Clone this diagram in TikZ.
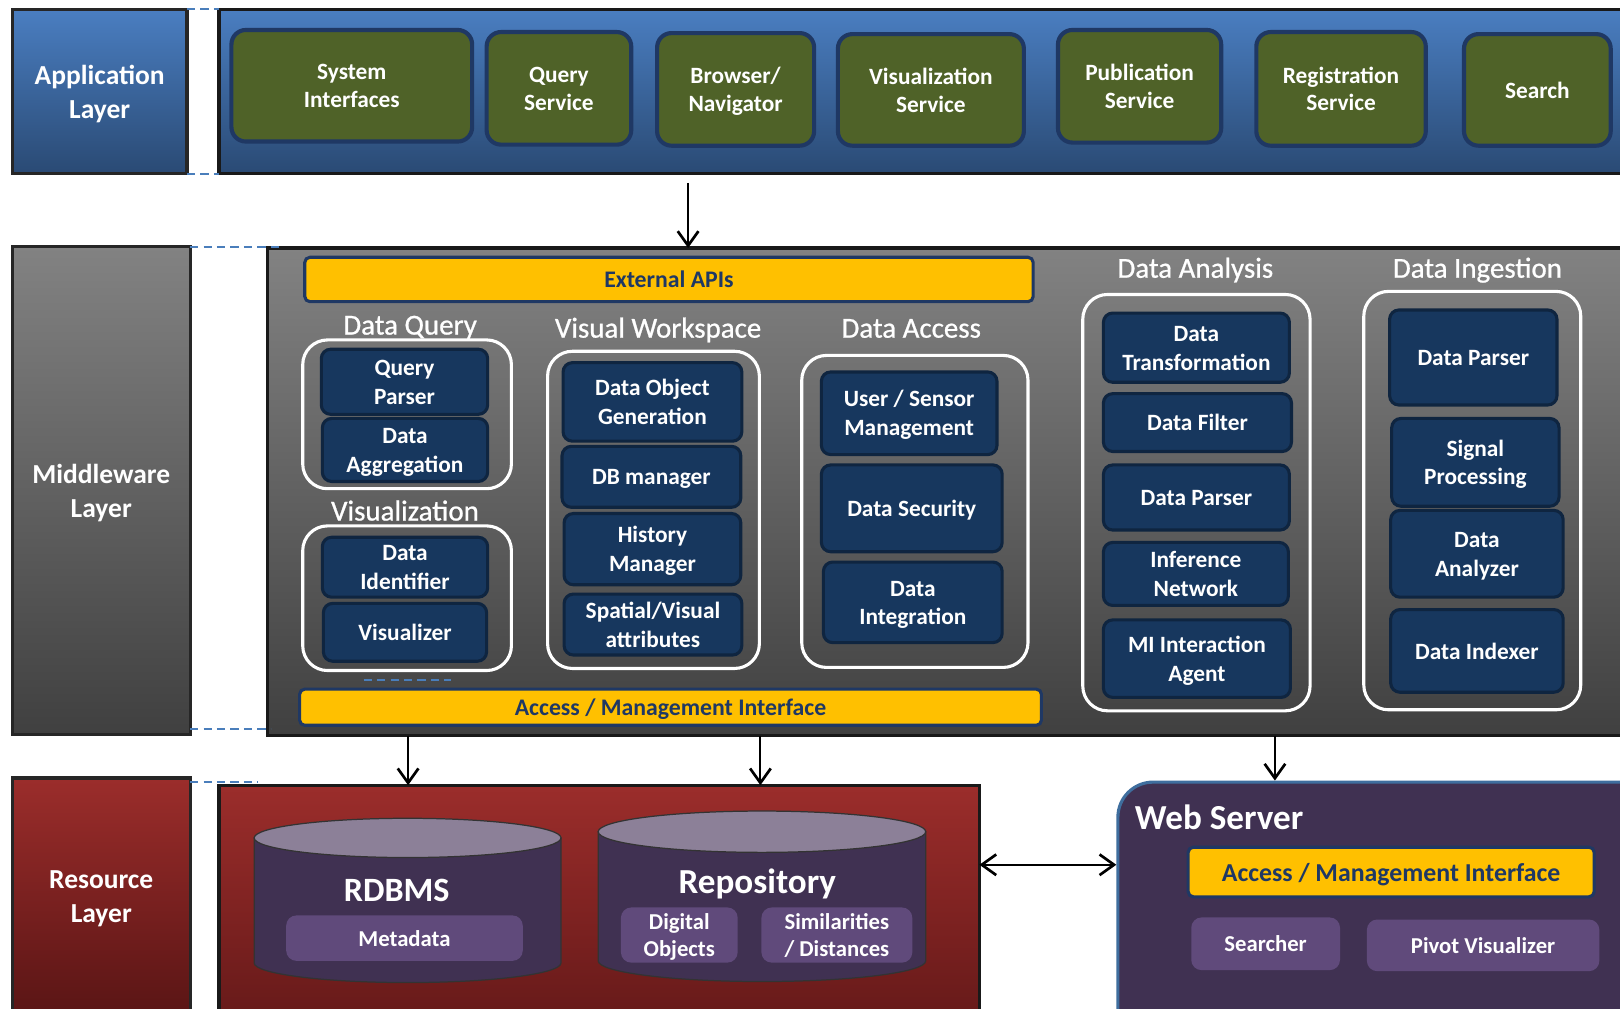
\documentclass[tikz,border=0pt]{standalone}
\usepackage{fontspec}
\setmainfont{Carlito}
\newfontfamily\headfont{Carlito}[BoldFont=Carlito, BoldFeatures={FakeBold=0.8}]
\usetikzlibrary{arrows.meta,calc}
\definecolor{appTop}{HTML}{4A7EC1}
\definecolor{appBot}{HTML}{2A4A74}
\definecolor{mwTop}{HTML}{828282}
\definecolor{mwBot}{HTML}{404040}
\definecolor{resTop}{HTML}{9B2D2B}
\definecolor{resBot}{HTML}{5A1515}
\definecolor{olive}{HTML}{4F6228}
\definecolor{navy}{HTML}{17375E}
\definecolor{navyEdge}{HTML}{0F2540}
\definecolor{oliveEdge}{HTML}{1F3864}
\definecolor{gold}{HTML}{FFC000}
\definecolor{goldText}{HTML}{1F3864}
\definecolor{cylBody}{HTML}{403152}
\definecolor{cylTop}{HTML}{8C8098}
\definecolor{lilac}{HTML}{604A7B}
\definecolor{dashBlue}{HTML}{4A7EBB}
\definecolor{wsEdge}{HTML}{3F6E9E}
\newcommand\tst[1]{\rule{0pt}{0.95em}#1\rule[-0.25em]{0pt}{0pt}}
\newcommand\mybox[7]{\node[#7, minimum width={(#4-#2)*0.5pt}, minimum height={(#5-#3)*0.5pt}] (#1) at ({(#2+#4)/2},{(#3+#5)/2}) {\tst{#6}};}
\tikzset{
  lbl/.style={draw=black!85, line width=1.5pt, text=white, align=center, inner sep=0pt, outer sep=0pt,
    font=\bfseries\fontsize{13.3}{16.5}\selectfont},
  band/.style={draw=black!90, line width=1.5pt, inner sep=0pt, outer sep=0pt},
  svc/.style={rounded corners=7pt, fill=olive, draw=oliveEdge, line width=2pt, text=white, align=center,
    inner sep=0pt, font=\bfseries\fontsize{11.3}{13.5}\selectfont},
  comp/.style={rounded corners=4.5pt, fill=navy, draw=navyEdge, line width=1.5pt, text=white, align=center,
    inner sep=0pt, font=\bfseries\fontsize{11.3}{14}\selectfont},
  grp/.style={draw=white, line width=1.5pt, rounded corners=12pt, inner sep=0pt},
  head/.style={text=white, inner sep=0pt, font=\headfont\bfseries\fontsize{14}{16}\selectfont},
  bar/.style={fill=gold, draw=oliveEdge, line width=1.5pt, rounded corners=2.5pt, text=goldText, align=center,
    inner sep=0pt, font=\bfseries\fontsize{11.5}{14}\selectfont},
  sub/.style={fill=lilac, rounded corners=5pt, text=white, align=center, inner sep=0pt,
    font=\bfseries\fontsize{11}{13.5}\selectfont},
  conn/.style={-{Straight Barb[length=7pt,width=10pt,line width=1.3pt]}, line width=1pt},
  dconn/.style={{Straight Barb[length=7pt,width=10pt,line width=1.3pt]}-{Straight Barb[length=7pt,width=10pt,line width=1.3pt]}, line width=1pt},
  dashlink/.style={draw=dashBlue, line width=1pt, dash pattern=on 4pt off 2.5pt},
  bigtxt/.style={text=white, inner sep=0pt, font=\bfseries\fontsize{17}{20}\selectfont}
}
\begin{document}
\begin{tikzpicture}[x=0.5pt, y=-0.5pt]
\useasboundingbox (0,0) rectangle (1568,976);
\clip (0,0) rectangle (1568,976);
\fill[white] (0,0) rectangle (1568,976);

% ---------- Application layer ----------
\mybox{applbl}{12}{9}{181}{168}{Application\\Layer}{lbl, top color=appTop, bottom color=appBot}
\mybox{app}{212}{9}{1640}{168}{}{band, top color=appTop, bottom color=appBot}
\draw[dashlink] (applbl.north east) -- (applbl.north east -| app.west);
\draw[dashlink] (applbl.south east) -- (applbl.south east -| app.west);

\mybox{si}{224}{29}{457}{137}{System\\Interfaces}{svc}
\mybox{qs}{471}{31}{611}{140}{Query\\Service}{svc}
\mybox{bn}{636}{32}{788}{141}{Browser/\\Navigator}{svc}
\mybox{vs}{811}{33}{991}{141}{Visualization\\Service}{svc}
\mybox{ps}{1024}{29}{1182}{138}{Publication\\Service}{svc}
\mybox{rs}{1216}{31}{1380}{141}{Registration\\Service}{svc}
\mybox{se}{1417}{33}{1559}{141}{Search}{svc}

% ---------- Middleware layer ----------
\mybox{mwlbl}{12}{239}{184}{711}{Middleware\\Layer}{lbl, top color=mwTop, bottom color=mwBot}
\mybox{mw}{259}{240}{1640}{712}{}{band, top color=mwTop, bottom color=mwBot}
\coordinate (mwd1) at (272,239);
\coordinate (mwd2) at (262,706);
\draw[dashlink] (mwlbl.north east) -- (mwlbl.north east -| mwd1);
\draw[dashlink] (mwd2 -| mwlbl.east) -- (mwd2);

\mybox{api}{295}{249}{1000}{292}{External APIs}{bar}
\mybox{ami}{290}{667}{1008}{702}{Access / Management Interface}{bar}

\mybox{gdq}{293}{329}{495}{473}{}{grp}
\mybox{gvz}{293}{509}{495}{649}{}{grp}
\mybox{gvw}{530}{340}{735}{647}{}{grp}
\mybox{gda}{776}{344}{995}{646}{}{grp}
\mybox{gan}{1048}{285}{1268}{688}{}{grp}
\mybox{gin}{1320}{282}{1530}{687}{}{grp}

\node[head] (hdq) at (397,314) {\tst{Data Query}};
\node[head] (hvz) at (392,494) {\tst{Visualization}};
\node[head] (hvw) at (637,317) {\tst{Visual Workspace}};
\node[head] (hda) at (882,317) {\tst{Data Access}};
\node[head] (han) at (1157,259) {\tst{Data Analysis}};
\node[head] (hin) at (1430,259) {\tst{Data Ingestion}};

\mybox{qp}{311}{338}{472}{401}{Query\\Parser}{comp}
\mybox{dag}{312}{405}{472}{466}{Data\\Aggregation}{comp}
\mybox{did}{312}{520}{472}{578}{Data\\Identifier}{comp}
\mybox{viz}{313}{584}{471}{640}{Visualizer}{comp}

\mybox{dog}{545}{351}{718}{427}{Data Object\\Generation}{comp}
\mybox{dbm}{544}{432}{717}{491}{DB manager}{comp}
\mybox{hm}{546}{497}{717}{566}{History\\Manager}{comp}
\mybox{sva}{546}{575}{718}{634}{Spatial/Visual\\attributes}{comp}

\mybox{usm}{795}{360}{965}{440}{User / Sensor\\Management}{comp}
\mybox{dsec}{795}{450}{970}{534}{Data Security}{comp}
\mybox{dint}{797}{544}{970}{622}{Data\\Integration}{comp}

\mybox{dtr}{1068}{303}{1248}{370}{Data\\Transformation}{comp}
\mybox{dfl}{1068}{381}{1250}{437}{Data Filter}{comp}
\mybox{dpa}{1068}{450}{1248}{513}{Data Parser}{comp}
\mybox{inn}{1068}{525}{1247}{586}{Inference\\Network}{comp}
\mybox{mia}{1068}{600}{1249}{675}{MI Interaction\\Agent}{comp}

\mybox{dpi}{1345}{300}{1507}{392}{Data Parser}{comp}
\mybox{sp}{1347}{405}{1509}{490}{Signal\\Processing}{comp}
\mybox{dan}{1346}{494}{1513}{578}{Data\\Analyzer}{comp}
\mybox{dix}{1346}{590}{1513}{670}{Data Indexer}{comp}

\coordinate (sd1) at (352,658);
\coordinate (sd2) at (437,658);
\draw[dashlink] (sd1) -- (sd2);

% ---------- Resource layer ----------
\mybox{reslbl}{12}{753}{184}{981}{Resource\\Layer}{lbl, top color=resTop, bottom color=resBot}
\mybox{rb}{212}{760}{948}{1040}{}{band, top color=resTop, bottom color=resBot}
\coordinate (rsd) at (250,757);
\draw[dashlink] (rsd -| reslbl.east) -- (rsd);

% RDBMS cylinder
\filldraw[fill=cylBody, draw=black!80, line width=0.6pt] (246,811) -- (246,932)
  arc[start angle=180, end angle=360, x radius=74.25pt, y radius=9.5pt] -- (543,811) -- cycle;
\filldraw[fill=cylTop, draw=black!80, line width=0.6pt] (394.5,811) ellipse[x radius=74.25pt, y radius=9.5pt];
\coordinate (rdbc) at (395,811);
\node[bigtxt, font=\bfseries\fontsize{16.5}{19}\selectfont] (rdbms) at (384,861) {\tst{RDBMS}};
\mybox{meta}{277}{886}{506}{930}{Metadata}{sub}

% Repository cylinder
\filldraw[fill=cylBody, draw=black!80, line width=0.6pt] (579,805) -- (579,930)
  arc[start angle=180, end angle=360, x radius=79.25pt, y radius=10pt] -- (896,805) -- cycle;
\filldraw[fill=cylTop, draw=black!80, line width=0.6pt] (737.5,805) ellipse[x radius=79.25pt, y radius=10pt];
\coordinate (repc) at (736,805);
\node[bigtxt] (repo) at (733,853) {\tst{Repository}};
\mybox{dobj}{601}{879}{714}{931}{Digital\\Objects}{sub}
\mybox{sim}{737}{881}{883}{929}{Similarities\\/ Distances}{sub}

% Web server
\mybox{ws}{1082}{757}{1640}{1040}{}{fill=cylBody, draw=wsEdge, line width=1.5pt, rounded corners=17pt, inner sep=0pt}
\node[bigtxt, anchor=west] (wst) at (1098,791) {\tst{Web Server}};
\mybox{wami}{1150}{820}{1543}{868}{Access / Management Interface}{bar, font=\bfseries\fontsize{12.5}{15}\selectfont}
\mybox{srch}{1153}{888}{1297}{939}{Searcher}{sub}
\mybox{pviz}{1323}{890}{1548}{940}{Pivot Visualizer}{sub}

% ---------- Connectors ----------
\coordinate (xa) at (666,0);
\draw[conn] ([yshift=-4.5pt]app.south -| xa) -- (mw.north -| xa);
\draw[conn] (mw.south -| rdbc) -- (rb.north -| rdbc);
\draw[conn] (mw.south -| repc) -- (rb.north -| repc);
\coordinate (wsx) at (1234,0);
\draw[conn] (mw.south -| wsx) -- (ws.north -| wsx);
\coordinate (dy) at (0,837);
\draw[dconn] (rb.east |- dy) -- (ws.west |- dy);
\end{tikzpicture}
\end{document}
